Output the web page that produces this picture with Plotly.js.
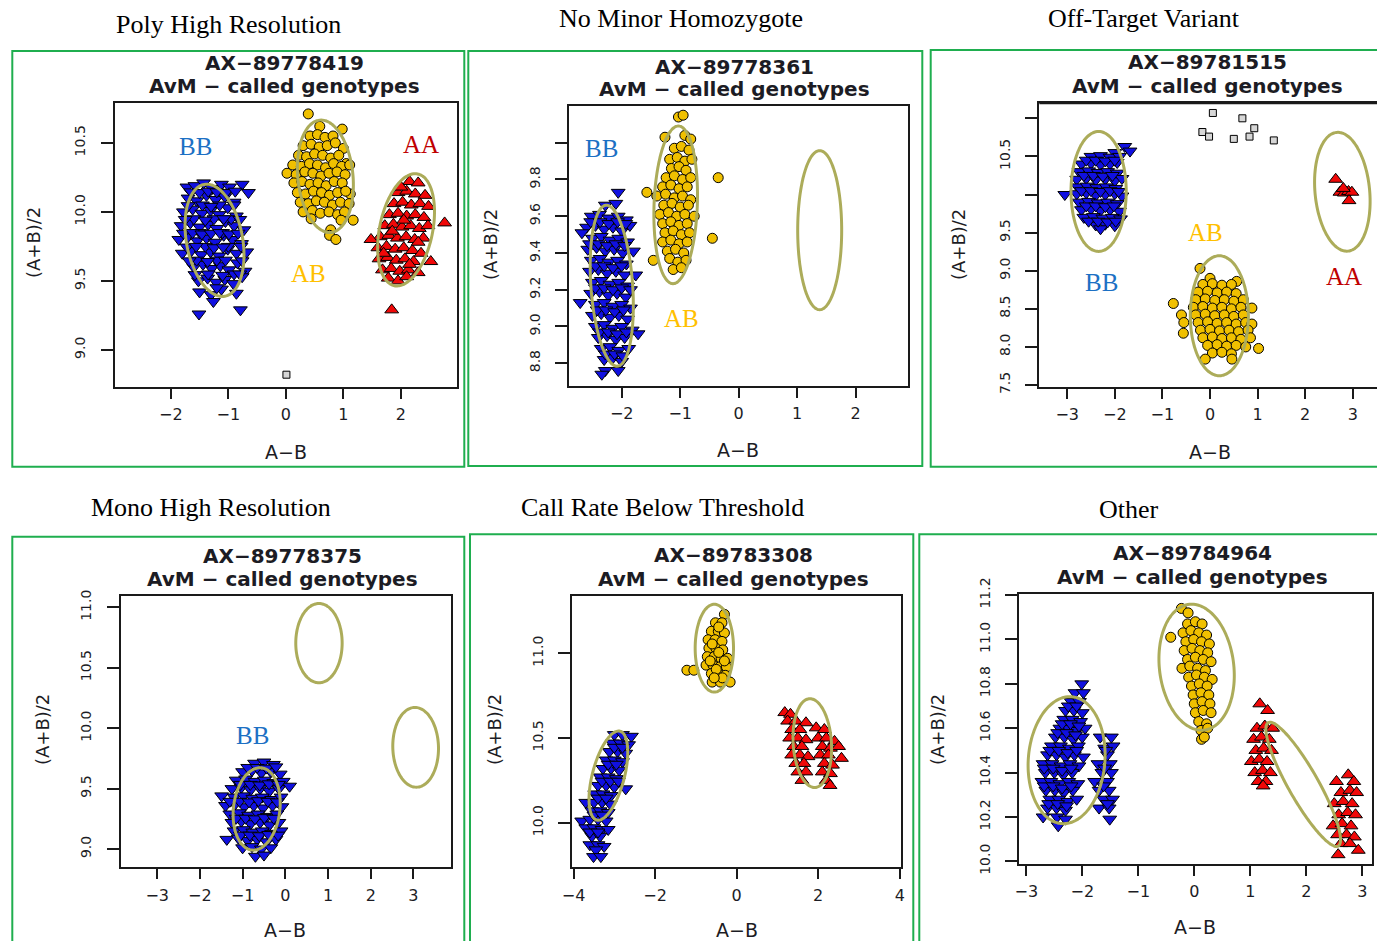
<!DOCTYPE html>
<html>
<head>
<meta charset="utf-8">
<script src="https://cdn.plot.ly/plotly-3.0.1.min.js"></script>
<style>html,body{margin:0;padding:0;background:#fff;}#chart{width:1377px;height:941px;}</style>
</head>
<body>
<div id="chart"></div>
<script>
// ---------------- DATA ----------------
const panelTitles = ['Poly High Resolution','No Minor Homozygote','Off-Target Variant','Mono High Resolution','Call Rate Below Threshold','Other'];
const probeIds = ['AX−89778419','AX−89778361','AX−89781515','AX−89778375','AX−89783308','AX−89784964'];
const subTitle = 'AvM − called genotypes';
const xLabel = 'A−B';
const yLabel = '(A+B)/2';

// tick values / labels
const p1XTicks=[-2,-1,0,1,2], p1XLabels=['−2','−1','0','1','2'];
const p1YTicks=[9.0,9.5,10.0,10.5], p1YLabels=['9.0','9.5','10.0','10.5'];
const p2XTicks=[-2,-1,0,1,2], p2XLabels=['−2','−1','0','1','2'];
const p2YTicks=[8.8,9.0,9.2,9.4,9.6,9.8,10.0], p2YLabels=['8.8','9.0','9.2','9.4','9.6','9.8',''];
const p3XTicks=[-3,-2,-1,0,1,2,3], p3XLabels=['−3','−2','−1','0','1','2','3'];
const p3YTicks=[7.5,8.0,8.5,9.0,9.5,10.0,10.5,11.0], p3YLabels=['7.5','8.0','8.5','9.0','9.5','','10.5',''];
const p4XTicks=[-3,-2,-1,0,1,2,3], p4XLabels=['−3','−2','−1','0','1','2','3'];
const p4YTicks=[9.0,9.5,10.0,10.5,11.0], p4YLabels=['9.0','9.5','10.0','10.5','11.0'];
const p5XTicks=[-4,-2,0,2,4], p5XLabels=['−4','−2','0','2','4'];
const p5YTicks=[10.0,10.5,11.0], p5YLabels=['10.0','10.5','11.0'];
const p6XTicks=[-3,-2,-1,0,1,2,3], p6XLabels=['−3','−2','−1','0','1','2','3'];
const p6YTicks=[10.0,10.2,10.4,10.6,10.8,11.0,11.2], p6YLabels=['10.0','10.2','10.4','10.6','10.8','11.0','11.2'];

// Panel 1
const p1BBx=[-1.72,-1.58,-1.43,-1.28,-1.12,-0.98,-0.76,-0.65,-1.70,-1.55,-1.38,-1.22,-1.06,-0.90,-1.78,-1.62,-1.46,-1.31,-1.16,-1.01,-0.86,-1.82,-1.66,-1.50,-1.35,-1.20,-1.05,-0.90,-0.73,-1.86,-1.70,-1.54,-1.38,-1.23,-1.08,-0.93,-0.77,-1.80,-1.64,-1.47,-1.31,-1.16,-1.01,-0.86,-0.68,-1.60,-1.44,-1.29,-1.14,-0.99,-0.84,-0.71,-1.52,-1.36,-1.21,-1.06,-0.91,-0.76,-1.50,-1.30,-1.12,-0.86,-1.26,-1.51,-0.79,-1.45,-1.15,-1.60,-1.25,-0.95,-1.50,-1.10,-1.40,-1.00,-1.55,-1.20,-0.90,-1.35,-1.20,
 -1.65,-1.50,-1.35,-1.20,-1.04,-0.88,-1.78,-1.62,-1.46,-1.30,-1.15,-0.99,-0.83,-1.72,-1.56,-1.25,-1.09,-0.78,-1.68,-1.36,-1.05,-0.76,-1.58,-1.10,-0.80,-1.70,-1.30,-0.90,-1.75,-1.40,-1.08,-0.80];
const p1BBy=[10.18,10.19,10.21,10.17,10.20,10.18,10.20,10.14,10.10,10.08,10.12,10.09,10.11,10.07,10.00,10.02,9.99,10.01,9.98,10.03,9.97,9.90,9.92,9.89,9.91,9.88,9.93,9.90,9.87,9.80,9.82,9.79,9.81,9.78,9.83,9.80,9.77,9.70,9.72,9.69,9.71,9.68,9.73,9.70,9.71,9.60,9.62,9.59,9.61,9.58,9.63,9.57,9.50,9.52,9.49,9.51,9.48,9.53,9.42,9.40,9.44,9.41,9.35,9.26,9.29,10.05,10.05,9.95,9.95,9.95,9.85,9.85,9.75,9.75,9.65,9.65,9.55,9.55,9.45,
 10.145,10.14,10.15,10.145,10.14,10.15,9.845,9.85,9.84,9.845,9.85,9.84,9.845,9.745,9.75,9.74,9.745,9.75,9.645,9.64,9.65,9.645,9.545,9.54,9.55,10.045,10.04,10.05,9.945,9.94,9.95,9.945];
const p1ABx=[0.39,0.59,0.98,0.42,0.55,0.68,0.82,0.30,0.44,0.58,0.72,0.86,1.00,0.22,0.36,0.50,0.64,0.78,0.92,1.05,0.12,0.27,0.41,0.55,0.69,0.83,0.97,1.11,0.02,0.18,0.33,0.47,0.61,0.75,0.89,1.03,0.14,0.28,0.42,0.56,0.70,0.84,0.98,1.12,0.20,0.34,0.48,0.62,0.76,0.90,1.04,0.25,0.39,0.53,0.67,0.81,0.95,1.10,0.30,0.46,0.60,0.75,0.90,1.02,0.44,0.96,1.17,0.78,0.76,0.87];
const p1ABy=[10.71,10.62,10.60,10.55,10.56,10.54,10.55,10.48,10.49,10.47,10.48,10.50,10.46,10.41,10.40,10.42,10.41,10.39,10.41,10.35,10.34,10.33,10.35,10.34,10.32,10.35,10.33,10.34,10.28,10.27,10.29,10.28,10.26,10.28,10.29,10.27,10.21,10.22,10.20,10.21,10.19,10.22,10.21,10.13,10.14,10.13,10.15,10.14,10.12,10.14,10.15,10.07,10.06,10.08,10.07,10.05,10.07,10.06,10.00,10.01,9.99,10.00,9.98,10.00,9.95,9.94,9.94,9.87,9.83,9.80];
const p1AAx=[2.15,2.30,1.95,2.10,2.25,2.42,1.88,2.03,2.18,2.33,2.48,1.80,1.95,2.10,2.25,2.40,1.72,1.87,2.02,2.17,2.32,2.47,2.76,1.64,1.79,1.94,2.09,2.24,2.39,1.48,1.60,1.75,1.90,2.05,2.20,2.35,1.62,1.77,1.92,2.07,2.22,2.52,1.68,1.83,1.98,2.13,2.30,1.78,1.95,2.10,1.84,2.00,2.05,1.85,2.30,1.70,2.15];
const p1AAy=[10.22,10.21,10.14,10.15,10.13,10.12,10.06,10.07,10.05,10.06,10.04,9.98,9.99,9.97,9.98,9.96,9.90,9.91,9.89,9.90,9.88,9.90,9.92,9.82,9.83,9.81,9.82,9.80,9.81,9.80,9.74,9.75,9.73,9.74,9.72,9.70,9.66,9.67,9.65,9.66,9.64,9.64,9.58,9.59,9.57,9.58,9.56,9.52,9.50,9.53,9.29,10.18,9.94,9.86,9.78,9.70,9.62];
const p1NCx=[0.01], p1NCy=[8.82];

// Panel 2
const p2BBx=[-2.06,-2.28,-2.10,-2.52,-2.38,-2.22,-2.06,-1.92,-2.60,-2.45,-2.30,-2.15,-2.00,-1.86,-2.68,-2.50,-2.35,-2.20,-2.05,-1.90,-2.58,-2.43,-2.28,-2.13,-1.98,-1.80,-2.52,-2.37,-2.22,-2.07,-1.92,-2.55,-2.40,-2.25,-2.10,-1.95,-1.76,-2.50,-2.35,-2.20,-2.05,-1.90,-2.53,-2.38,-2.23,-2.08,-1.93,-2.71,-2.45,-2.30,-2.15,-2.00,-1.85,-2.50,-2.35,-2.20,-2.05,-1.90,-2.45,-2.30,-2.15,-2.00,-1.82,-2.40,-2.25,-2.10,-1.95,-1.72,-2.35,-2.20,-2.05,-1.88,-2.30,-2.15,-2.00,-2.28,-2.06,-2.34,
 -2.53,-2.37,-2.22,-2.07,-1.93,-2.55,-2.40,-2.25,-2.10,-1.95,-2.45,-2.30,-2.15,-2.00,-2.45,-2.30,-2.15,-2.00,-1.85,-2.42,-2.27,-2.12,-1.97,-2.38,-2.23,-2.08,-1.92,-2.28,-2.12,-1.98];
const p2BBy=[9.73,9.66,9.67,9.60,9.61,9.59,9.60,9.58,9.54,9.55,9.53,9.54,9.52,9.55,9.51,9.48,9.49,9.47,9.48,9.46,9.42,9.43,9.41,9.42,9.40,9.41,9.36,9.37,9.35,9.36,9.34,9.30,9.31,9.29,9.30,9.28,9.28,9.24,9.25,9.23,9.24,9.22,9.18,9.19,9.17,9.18,9.16,9.13,9.12,9.13,9.11,9.12,9.10,9.06,9.07,9.05,9.06,9.04,9.00,9.01,8.99,9.00,8.98,8.94,8.95,8.93,8.94,8.96,8.88,8.89,8.87,8.88,8.82,8.83,8.81,8.76,8.76,8.74,
 9.57,9.57,9.56,9.57,9.56,9.45,9.45,9.44,9.45,9.44,9.33,9.33,9.32,9.33,9.21,9.21,9.20,9.21,9.20,9.09,9.09,9.08,9.09,8.97,8.97,8.96,8.97,8.85,8.85,8.84];
const p2ABx=[-1.03,-0.95,-1.26,-0.92,-0.82,-1.10,-0.98,-0.85,-1.18,-1.05,-0.92,-0.80,-1.15,-1.02,-0.90,-1.24,-1.10,-0.96,-0.82,-0.35,-1.30,-1.16,-1.02,-0.88,-1.40,-1.25,-1.10,-0.96,-0.82,-1.28,-1.14,-1.00,-0.86,-1.35,-1.20,-1.06,-0.92,-0.76,-1.30,-1.16,-1.02,-0.88,-1.26,-1.12,-0.98,-0.84,-0.45,-1.30,-1.16,-1.02,-0.88,-1.22,-1.08,-0.94,-1.46,-1.18,-1.04,-0.90,-1.12,-0.98,-1.57];
const p2ABy=[10.14,10.15,10.03,10.04,10.02,9.97,9.98,9.96,9.91,9.92,9.90,9.91,9.86,9.87,9.85,9.81,9.82,9.80,9.81,9.81,9.76,9.77,9.75,9.76,9.71,9.72,9.70,9.71,9.69,9.66,9.67,9.65,9.66,9.61,9.62,9.60,9.61,9.60,9.56,9.57,9.55,9.56,9.51,9.52,9.50,9.51,9.48,9.46,9.47,9.45,9.46,9.41,9.42,9.40,9.36,9.37,9.35,9.36,9.31,9.32,9.73];

// Panel 3
const p3BBx=[-1.79,-1.68,-2.00,-2.50,-2.30,-2.10,-1.90,-2.70,-2.50,-2.30,-2.10,-1.95,-2.75,-2.55,-2.35,-2.15,-1.95,-2.80,-2.60,-2.40,-2.20,-2.00,-1.85,-2.78,-2.58,-2.38,-2.18,-1.98,-3.05,-2.80,-2.60,-2.40,-2.20,-2.00,-1.85,-2.75,-2.55,-2.35,-2.15,-1.95,-2.70,-2.50,-2.30,-2.10,-1.90,-2.65,-2.45,-2.25,-2.05,-1.88,-2.40,-2.20,-2.00,-2.30,
 -2.60,-2.40,-2.20,-2.00,-2.65,-2.45,-2.25,-2.05,-2.70,-2.50,-2.30,-2.10,-1.92,-2.60,-2.40,-2.20,-2.02,-2.55,-2.35,-2.15,-1.98];
const p3BBy=[10.63,10.57,10.55,10.50,10.51,10.49,10.50,10.40,10.41,10.39,10.40,10.42,10.30,10.31,10.29,10.30,10.28,10.20,10.21,10.19,10.20,10.18,10.21,10.10,10.11,10.09,10.10,10.08,10.00,10.01,10.02,9.99,10.00,10.01,9.98,9.90,9.91,9.89,9.90,9.88,9.80,9.81,9.79,9.80,9.78,9.70,9.71,9.69,9.70,9.68,9.60,9.61,9.59,9.55,
 10.45,10.45,10.44,10.45,10.25,10.25,10.24,10.25,10.05,10.05,10.04,10.05,10.04,9.85,9.85,9.84,9.85,9.65,9.65,9.64,9.65];
const p3ABx=[-0.21,0.00,0.56,-0.15,0.05,0.25,0.45,-0.25,-0.05,0.15,0.35,0.55,-0.30,-0.10,0.10,0.30,0.50,0.70,-0.77,-0.35,-0.15,0.05,0.25,0.45,0.65,0.88,-0.60,-0.30,-0.10,0.10,0.30,0.50,0.70,-0.55,-0.25,-0.05,0.15,0.35,0.55,0.75,0.88,-0.20,0.00,0.20,0.40,0.60,0.80,-0.56,-0.15,0.05,0.25,0.45,0.65,0.85,-0.05,0.15,0.35,0.55,0.75,1.02,0.05,0.25,0.45,-0.10,0.46];
const p3ABy=[9.03,8.90,8.86,8.82,8.83,8.81,8.82,8.72,8.73,8.71,8.72,8.70,8.62,8.63,8.61,8.62,8.60,8.62,8.57,8.52,8.53,8.51,8.52,8.50,8.52,8.51,8.42,8.42,8.43,8.41,8.42,8.40,8.42,8.32,8.32,8.33,8.31,8.32,8.30,8.32,8.30,8.22,8.23,8.21,8.22,8.20,8.22,8.18,8.12,8.13,8.11,8.12,8.10,8.12,8.02,8.03,8.01,8.02,8.00,7.98,7.92,7.93,7.91,7.84,7.84];
const p3AAx=[2.64,2.73,2.82,2.91,2.98,2.92,2.80];
const p3AAy=[10.20,10.03,10.02,10.04,10.03,9.92,10.08];
const p3NCx=[0.06,0.68,0.93,0.83,0.50,-0.16,-0.02,1.34];
const p3NCy=[11.07,11.00,10.87,10.76,10.73,10.82,10.76,10.71];

// Panel 4
const p4BBx=[-0.72,-0.50,-0.28,-1.00,-0.78,-0.56,-0.34,-0.12,-1.15,-0.93,-0.71,-0.49,-0.27,-0.05,-1.25,-1.03,-0.81,-0.59,-0.37,-0.15,0.10,-1.49,-1.20,-0.98,-0.76,-0.54,-0.32,-0.10,-1.40,-1.18,-0.96,-0.74,-0.52,-0.30,-0.08,-1.30,-1.08,-0.86,-0.64,-0.42,-0.20,-1.25,-1.03,-0.81,-0.59,-0.37,-0.15,-1.20,-0.98,-0.76,-0.54,-0.32,-0.10,-1.37,-1.10,-0.88,-0.66,-0.44,-0.22,-1.00,-0.78,-0.56,-0.34,-0.70,-0.50,
 -1.05,-0.82,-0.60,-0.38,-0.16,-1.30,-1.07,-0.85,-0.63,-0.41,-0.19,-1.15,-0.93,-0.71,-0.49,-0.27,-1.05,-0.83,-0.61,-0.39,-0.17,-0.88,-0.66,-0.44,-0.22];
const p4BBy=[9.71,9.72,9.70,9.64,9.65,9.63,9.64,9.62,9.57,9.58,9.56,9.57,9.55,9.56,9.50,9.51,9.49,9.50,9.48,9.50,9.52,9.44,9.43,9.44,9.42,9.43,9.41,9.43,9.36,9.37,9.35,9.36,9.34,9.36,9.35,9.29,9.30,9.28,9.29,9.27,9.29,9.22,9.23,9.21,9.22,9.20,9.22,9.15,9.16,9.14,9.15,9.13,9.15,9.08,9.09,9.07,9.08,9.06,9.08,9.01,9.02,9.00,9.01,8.94,8.95,
 9.535,9.535,9.53,9.54,9.535,9.395,9.395,9.39,9.40,9.395,9.39,9.255,9.255,9.25,9.26,9.255,9.115,9.115,9.11,9.12,9.115,9.675,9.675,9.67,9.68];

// Panel 5
const p5BBx=[-3.00,-2.80,-2.58,-3.05,-2.85,-2.65,-3.12,-2.92,-2.72,-3.20,-3.00,-2.80,-3.28,-3.08,-2.88,-3.35,-3.15,-2.95,-3.40,-3.20,-3.00,-2.72,-3.48,-3.28,-3.08,-3.70,-3.50,-3.30,-3.10,-3.55,-3.35,-3.15,-3.80,-3.60,-3.40,-3.20,-3.70,-3.50,-3.30,-3.15,-3.55,-3.35,-3.60,-3.40,-3.25,-3.45,-3.51,-3.33,
 -3.00,-2.80,-3.15,-2.95,-3.30,-3.10,-2.90,-3.40,-3.20,-3.50,-3.30,-3.60,-3.40];
const p5BBy=[10.52,10.52,10.51,10.47,10.47,10.46,10.42,10.42,10.41,10.37,10.37,10.36,10.32,10.32,10.31,10.27,10.27,10.26,10.22,10.22,10.21,10.20,10.17,10.17,10.16,10.12,10.12,10.12,10.11,10.07,10.07,10.06,10.01,10.02,10.02,10.01,9.97,9.97,9.96,9.96,9.92,9.92,9.87,9.87,9.86,9.84,9.80,9.80,
 10.445,10.445,10.345,10.345,10.245,10.245,10.245,10.145,10.145,10.045,10.045,9.945,9.945];
const p5ABx=[-0.30,-0.52,-0.36,-0.62,-0.45,-0.30,-0.70,-0.53,-0.36,-0.68,-0.51,-0.34,-0.72,-0.55,-0.38,-0.22,-0.75,-0.58,-0.41,-0.25,-1.22,-1.05,-0.62,-0.45,-0.28,-0.60,-0.40,-0.16,-0.44,-0.60,-0.44,-0.65,-0.30,-0.50,-0.35,-0.55];
const p5ABy=[11.23,11.18,11.18,11.13,11.13,11.12,11.08,11.08,11.07,11.03,11.03,11.02,10.98,10.98,10.97,10.97,10.93,10.93,10.92,10.92,10.90,10.90,10.88,10.88,10.87,10.83,10.83,10.83,11.155,11.055,11.005,10.955,10.955,10.905,10.855,10.855];
const p5AAx=[1.18,1.32,1.25,1.45,1.70,1.35,1.55,1.95,2.15,1.30,1.50,1.70,2.00,2.20,2.40,1.40,1.60,2.10,2.30,2.50,1.35,1.55,1.75,2.05,2.25,2.57,1.45,1.65,2.15,2.35,1.50,1.70,2.10,2.30,1.60,2.20,2.29];
const p5AAy=[10.65,10.64,10.60,10.60,10.59,10.55,10.55,10.56,10.55,10.50,10.50,10.49,10.50,10.50,10.48,10.45,10.45,10.45,10.44,10.45,10.40,10.40,10.39,10.40,10.40,10.38,10.35,10.35,10.35,10.34,10.30,10.30,10.30,10.29,10.25,10.25,10.22];

// Panel 6
const p6BBx=[-2.01,-2.13,-1.98,-2.20,-2.05,-2.30,-2.15,-2.00,-2.33,-2.18,-2.03,-2.40,-2.25,-2.10,-1.95,-2.48,-2.32,-2.16,-2.00,-1.68,-1.48,-2.55,-2.39,-2.23,-2.07,-1.60,-1.45,-2.62,-2.46,-2.30,-2.14,-1.98,-1.55,-2.70,-2.54,-2.38,-2.22,-2.06,-1.72,-1.50,-2.66,-2.50,-2.34,-2.18,-1.65,-1.48,-2.72,-2.56,-2.40,-2.24,-2.08,-1.78,-1.55,-2.65,-2.49,-2.33,-2.17,-1.70,-1.52,-2.58,-2.42,-2.26,-2.10,-1.62,-1.46,-2.62,-2.46,-2.30,-1.70,-1.52,-2.70,-2.45,-2.30,-1.51,-2.43,
 -2.44,-2.28,-2.12,-2.58,-2.42,-2.26,-2.10,-1.58,-2.68,-2.52,-2.36,-2.20,-1.60,-2.68,-2.52,-2.36,-2.20,-1.62,-2.60,-2.44,-2.28,-1.55,-2.25,-2.10,-2.36,-2.21,-2.06];
const p6BBy=[10.80,10.76,10.76,10.72,10.72,10.68,10.68,10.67,10.64,10.64,10.63,10.60,10.60,10.59,10.60,10.56,10.56,10.55,10.56,10.56,10.56,10.52,10.52,10.51,10.52,10.51,10.52,10.48,10.48,10.47,10.48,10.47,10.48,10.44,10.44,10.43,10.44,10.43,10.44,10.44,10.40,10.40,10.39,10.40,10.40,10.40,10.36,10.36,10.35,10.36,10.35,10.36,10.36,10.32,10.32,10.31,10.32,10.32,10.32,10.28,10.28,10.27,10.28,10.28,10.28,10.24,10.24,10.23,10.24,10.24,10.20,10.20,10.19,10.19,10.16,
 10.58,10.58,10.57,10.50,10.50,10.49,10.50,10.50,10.42,10.42,10.41,10.42,10.42,10.34,10.34,10.33,10.34,10.34,10.26,10.26,10.25,10.26,10.70,10.70,10.62,10.62,10.61];
const p6ABx=[-0.23,-0.11,-0.12,0.02,0.14,-0.20,-0.06,0.08,0.22,-0.42,-0.15,-0.01,0.13,0.27,-0.18,-0.04,0.10,0.24,-0.12,0.02,0.16,0.30,-0.22,-0.08,0.06,0.20,-0.10,0.04,0.18,0.32,-0.05,0.09,0.23,-0.02,0.12,0.26,0.00,0.14,0.28,0.02,0.16,0.30,0.08,0.22,0.12,0.24,0.13,0.18];
const p6ABy=[11.14,11.12,11.07,11.08,11.07,11.03,11.04,11.03,11.02,11.01,10.99,11.00,10.99,10.98,10.95,10.96,10.95,10.94,10.91,10.92,10.91,10.90,10.87,10.88,10.87,10.86,10.83,10.84,10.83,10.82,10.79,10.80,10.79,10.75,10.76,10.75,10.71,10.72,10.71,10.67,10.68,10.67,10.63,10.62,10.59,10.60,10.55,10.56];
const p6AAx=[1.17,1.31,1.12,1.26,1.40,1.06,1.20,1.34,1.10,1.24,1.38,1.02,1.16,1.30,1.08,1.22,1.36,1.14,1.28,1.23,2.75,2.54,2.85,2.62,2.78,2.90,2.50,2.66,2.82,2.58,2.74,2.88,2.48,2.64,2.80,2.56,2.72,2.86,2.62,2.78,2.93,2.57];
const p6AAy=[10.71,10.68,10.60,10.61,10.60,10.55,10.56,10.55,10.50,10.51,10.50,10.45,10.46,10.45,10.40,10.41,10.40,10.36,10.36,10.34,10.39,10.36,10.36,10.31,10.32,10.31,10.26,10.27,10.26,10.21,10.22,10.21,10.16,10.17,10.16,10.12,10.12,10.11,10.08,10.08,10.05,10.03];

// Cluster ellipses (centre, major-axis vector u, minor-axis vector v) per panel, order BB, AB, AA
const p1EllCx=[-1.24,0.687,2.09], p1EllCy=[9.794,10.258,9.87], p1EllUx=[-0.18,-0.098,0.202], p1EllUy=[0.405,0.407,0.405], p1EllVx=[0.48,0.477,0.451], p1EllVy=[0.037,0.020,-0.039];
const p2EllCx=[-2.17,-1.077,1.385], p2EllCy=[9.222,9.662,9.524], p2EllUx=[-0.085,0.046,0], p2EllUy=[0.438,0.429,0.433], p2EllVx=[0.359,0.37,0.376], p2EllVy=[-0.007,0,0];
const p3EllCx=[-2.34,0.196,2.78], p3EllCy=[10.04,8.409,10.036], p3EllUx=[0,0,-0.119], p3EllUy=[0.787,0.787,0.779], p3EllVx=[0.58,0.61,0.571], p3EllVy=[0,0,0.034];
const p4EllCx=[-0.671,0.788,3.052], p4EllCy=[9.332,10.704,9.842], p4EllUx=[0.078,0,-0.016], p4EllUy=[0.341,0.328,0.33], p4EllVx=[0.546,0.543,0.535], p4EllVy=[0,0,0];
const p5EllCx=[-3.145,-0.547,1.855], p5EllCy=[10.278,11.03,10.47], p5EllUx=[0.286,0,-0.057], p5EllUy=[0.262,0.259,0.262], p5EllVx=[0.379,0.47,0.47], p5EllVy=[-0.024,0,0];
const p6EllCx=[-2.28,0.042,1.946], p6EllCy=[10.456,10.875,10.347], p6EllUx=[0.089,-0.089,-0.625], p6EllUy=[0.286,0.284,0.278], p6EllVx=[0.682,0.667,0.233], p6EllVy=[-0.0135,0,0.033];

// ---------------- LAYOUT / STYLE ----------------
const W=1377, H=941;
const px = v => v/W, py = v => 1 - v/H;
const C = {BB:'#1010e0', AB:'#f0c000', AA:'#f00808', NC:'#d6d6d6', ell:'#acac5a', green:'#1fae4f',
           lblBB:'#1c70c4', lblAB:'#ffc000', lblAA:'#c00000', txt:'#1c1c24'};
const RFONT = 'DejaVu Sans, Liberation Sans, Arial, sans-serif';
const TFONT = 'Liberation Serif, Times New Roman, serif';

const panels = [
 {box:[12.3,51,464.3,466.7], plot:[115,103.3,456.7,386.7], xr:[-2.97,2.97], yr:[8.733,10.787],
  xt:p1XTicks, xl:p1XLabels, yt:p1YTicks, yl:p1YLabels, ptitle:[228,25], ctitle:[284,63,86], xlab:[286,452], ylab:[33,243],
  BB:[p1BBx,p1BBy], AB:[p1ABx,p1ABy], AA:[p1AAx,p1AAy], NC:[p1NCx,p1NCy],
  ell:[p1EllCx,p1EllCy,p1EllUx,p1EllUy,p1EllVx,p1EllVy],
  labels:[['BB',-1.565,10.472,'lblBB'],['AB',0.387,9.552,'lblAB'],['AA',2.35,10.49,'lblAA']]},
 {box:[468.3,51,922.3,466], plot:[569.3,106,908.3,386], xr:[-2.896,2.9], yr:[8.676,10.2],
  xt:p2XTicks, xl:p2XLabels, yt:p2YTicks, yl:p2YLabels, ptitle:[681,18], ctitle:[735,66.7,89.3], xlab:[738,450], ylab:[490,245],
  BB:[p2BBx,p2BBy], AB:[p2ABx,p2ABy],
  ell:[p2EllCx,p2EllCy,p2EllUx,p2EllUy,p2EllVx,p2EllVy],
  labels:[['BB',-2.34,9.969,'lblBB'],['AB',-0.974,9.042,'lblAB']]},
 {box:[930.7,50,1380,466.7], plot:[1039.3,103.3,1377,386.7], xr:[-3.586,3.508], yr:[7.478,11.197], openRight:true,
  xt:p3XTicks, xl:p3XLabels, yt:p3YTicks, yl:p3YLabels, ptitle:[1144,18], ctitle:[1207,62.3,86], xlab:[1210,452], ylab:[958,245],
  BB:[p3BBx,p3BBy], AB:[p3ABx,p3ABy], AA:[p3AAx,p3AAy], NC:[p3NCx,p3NCy],
  ell:[p3EllCx,p3EllCy,p3EllUx,p3EllUy,p3EllVx,p3EllVy],
  labels:[['AB',-0.105,9.507,'lblAB'],['BB',-2.28,8.846,'lblBB'],['AA',2.82,8.93,'lblAA']]},
 {box:[12.3,536.7,464.3,950], plot:[120.7,596,450.7,867.3], xr:[-3.855,3.873], yr:[8.849,11.094],
  xt:p4XTicks, xl:p4XLabels, yt:p4YTicks, yl:p4YLabels, ptitle:[211,508], ctitle:[282,555.7,579.3], xlab:[285,930], ylab:[42,730],
  BB:[p4BBx,p4BBy],
  ell:[p4EllCx,p4EllCy,p4EllUx,p4EllUy,p4EllVx,p4EllVy],
  labels:[['BB',-0.773,9.936,'lblBB']]},
 {box:[470,534.3,913.3,950], plot:[572.3,596,901,867.3], xr:[-4.03,4.03], yr:[9.737,11.338],
  xt:p5XTicks, xl:p5XLabels, yt:p5YTicks, yl:p5YLabels, ptitle:[662,508], ctitle:[733,555,579.3], xlab:[737,930], ylab:[494,730],
  BB:[p5BBx,p5BBy], AB:[p5ABx,p5ABy], AA:[p5AAx,p5AAy],
  ell:[p5EllCx,p5EllCy,p5EllUx,p5EllUy,p5EllVx,p5EllVy], labels:[]},
 {box:[919.3,534.3,1380,950], plot:[1019.3,594,1372.3,864], xr:[-3.125,3.18], yr:[9.988,11.205],
  xt:p6XTicks, xl:p6XLabels, yt:p6YTicks, yl:p6YLabels, ptitle:[1129,510], ctitle:[1192,553.3,577.3], xlab:[1195,927], ylab:[937,730],
  BB:[p6BBx,p6BBy], AB:[p6ABx,p6ABy], AA:[p6AAx,p6AAy],
  ell:[p6EllCx,p6EllCy,p6EllUx,p6EllUy,p6EllVx,p6EllVy], labels:[]}
];

const traces=[], shapes=[], annotations=[];
const layout = {width:W, height:H, margin:{l:0,r:0,t:0,b:0}, paper_bgcolor:'#fff', plot_bgcolor:'#fff', showlegend:false};

function ellipsePts(cx,cy,ux,uy,vx,vy){
  const xs=[], ys=[];
  for(let i=0;i<=120;i++){ const t=2*Math.PI*i/120; xs.push(cx+ux*Math.cos(t)+vx*Math.sin(t)); ys.push(cy+uy*Math.cos(t)+vy*Math.sin(t)); }
  return [xs,ys];
}

panels.forEach((p,i)=>{
  const n = i===0 ? '' : String(i+1);
  const xa='x'+n, ya='y'+n;
  const common={showgrid:false, zeroline:false, showline:true, linecolor:'#1a1a1a', linewidth:2, mirror:true,
    ticks:'outside', tickcolor:'#1a1a1a', tickwidth:1.5, tickmode:'array', fixedrange:true};
  layout['xaxis'+n]=Object.assign({}, common, {domain:[px(p.plot[0]),Math.min(1,px(p.plot[2]))], range:p.xr, anchor:ya,
    tickvals:p.xt, ticktext:p.xl, ticklen:10, ticklabelstandoff:2, tickfont:{family:RFONT,size:16,color:C.txt}});
  layout['yaxis'+n]=Object.assign({}, common, {domain:[py(p.plot[3]),py(p.plot[1])], range:p.yr, anchor:xa,
    tickvals:p.yt, ticktext:p.yl, ticklen:12, tickangle:-90, ticklabelstandoff:10, tickfont:{family:RFONT,size:14,color:C.txt}});
  if(p.openRight){ layout['yaxis'+n].mirror=false; }

  const mk=(d,sym,col,size,name)=>{ if(!d) return; traces.push({type:'scatter',mode:'markers',x:d[0],y:d[1],xaxis:xa,yaxis:ya,name:name,hoverinfo:'x+y+name',
    marker:{symbol:sym,color:col,size:size,line:{color:'#000',width:1}}}); };
  mk(p.NC,'square',C.NC,7,'No call');
  mk(p.BB,'triangle-down',C.BB,12,'BB');
  mk(p.AB,'circle',C.AB,10,'AB');
  mk(p.AA,'triangle-up',C.AA,12,'AA');

  const e=p.ell;
  for(let k=0;k<e[0].length;k++){
    const [ex,ey]=ellipsePts(e[0][k],e[1][k],e[2][k],e[3][k],e[4][k],e[5][k]);
    traces.push({type:'scatter',mode:'lines',x:ex,y:ey,xaxis:xa,yaxis:ya,hoverinfo:'skip',line:{color:C.ell,width:3,shape:'spline'}});
  }

  shapes.push({type:'rect',xref:'paper',yref:'paper',x0:px(p.box[0]),x1:px(p.box[2]),y0:py(p.box[3]),y1:py(p.box[1]),line:{color:C.green,width:2}});
  if(p.openRight){
    shapes.push({type:'line',xref:'paper',yref:'paper',x0:px(p.plot[0]),x1:1.01,y0:py(p.plot[1]),y1:py(p.plot[1]),line:{color:'#1a1a1a',width:2}});
  }

  const ann=(text,x,y,font,extra)=>annotations.push(Object.assign({text:text,xref:'paper',yref:'paper',x:px(x),y:py(y),xanchor:'center',yanchor:'middle',showarrow:false,font:font},extra||{}));
  ann(panelTitles[i],p.ptitle[0],p.ptitle[1],{family:TFONT,size:26,color:'#000'});
  ann(probeIds[i],p.ctitle[0],p.ctitle[1],{family:RFONT,size:20,color:C.txt,weight:'bold'});
  ann(subTitle,p.ctitle[0],p.ctitle[2],{family:RFONT,size:20,color:C.txt,weight:'bold'});
  ann(xLabel,p.xlab[0],p.xlab[1],{family:RFONT,size:19,color:C.txt});
  ann(yLabel,p.ylab[0],p.ylab[1],{family:RFONT,size:18,color:C.txt},{textangle:-90});

  p.labels.forEach(l=>annotations.push({text:l[0],xref:xa,yref:ya,x:l[1],y:l[2],xanchor:'center',yanchor:'middle',showarrow:false,
    font:{family:TFONT,size:25,color:C[l[3]]}}));
});

layout.shapes=shapes; layout.annotations=annotations;
Plotly.newPlot('chart',traces,layout,{displayModeBar:false,responsive:false});
</script>
</body>
</html>
